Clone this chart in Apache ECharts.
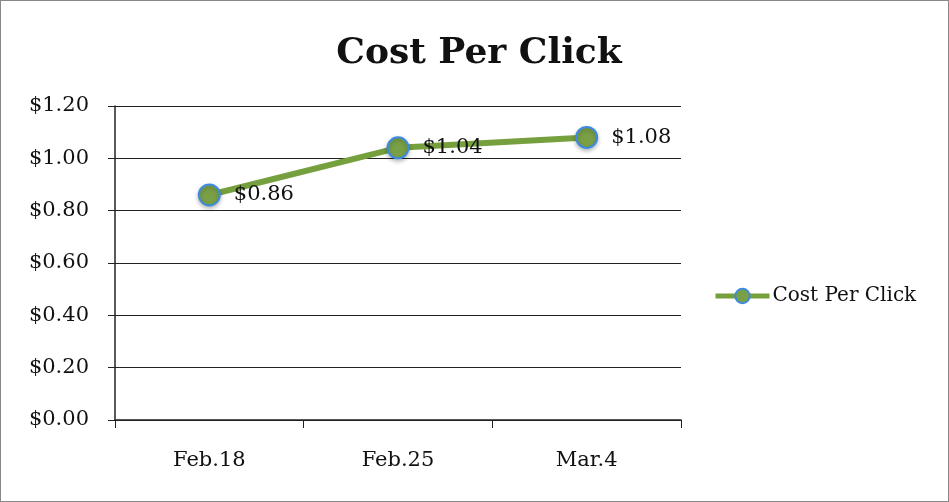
<!DOCTYPE html>
<html>
<head>
<meta charset="utf-8">
<script src="https://cdn.jsdelivr.net/npm/echarts@6/dist/echarts.min.js"></script>
<style>
  html, body { margin: 0; padding: 0; background: #fff; }
  #chart { width: 947px; height: 500px; border: 1px solid #888; }
</style>
</head>
<body>
<div id="chart"></div>
<script>
// weekly cost per click
const categories = ['Feb.18', 'Feb.25', 'Mar.4'];
const costPerClick = [0.86, 1.04, 1.08];
const seriesName = 'Cost Per Click';

const serif = '"DejaVu Serif", "Liberation Serif", serif';
const money = v => '$' + v.toFixed(2);

const chart = echarts.init(document.getElementById('chart'));

chart.setOption({
  backgroundColor: '#fff',
  animation: false,
  title: {
    text: 'Cost Per Click',
    left: 473,
    textAlign: 'center',
    top: 30,
    textStyle: { fontFamily: serif, fontSize: 36, fontWeight: 'bold', color: '#111' }
  },
  legend: {
    left: 707,
    top: 280,
    itemWidth: 54,
    itemHeight: 18,
    itemGap: 3,
    lineStyle: { width: 5 },
    textStyle: { fontFamily: serif, fontSize: 20, color: '#111', padding: [0, 0, 0, -2] },
    data: [seriesName]
  },
  grid: { left: 114, right: 267, top: 105, bottom: 81 },
  xAxis: {
    type: 'category',
    data: categories,
    boundaryGap: true,
    axisLine: { lineStyle: { color: '#222', width: 1.5 } },
    axisTick: { show: true, length: 8, lineStyle: { color: '#222' } },
    axisLabel: { fontFamily: serif, fontSize: 21, color: '#111', margin: 30 }
  },
  yAxis: {
    type: 'value',
    min: 0,
    max: 1.2,
    interval: 0.2,
    axisLine: { show: true, lineStyle: { color: '#222', width: 1.5 } },
    axisTick: { show: true, length: 7, lineStyle: { color: '#222' } },
    axisLabel: { fontFamily: serif, fontSize: 21, color: '#111', margin: 26, formatter: money },
    splitLine: { lineStyle: { color: '#222', width: 1.2 } }
  },
  series: [{
    name: seriesName,
    type: 'line',
    data: costPerClick,
    symbol: 'circle',
    symbolSize: 21,
    lineStyle: { color: '#76a03e', width: 6 },
    itemStyle: {
      color: '#7aa046',
      borderColor: '#3d8be0',
      borderWidth: 2,
      shadowColor: 'rgba(0,0,0,0.25)',
      shadowBlur: 4,
      shadowOffsetY: 2
    },
    label: {
      show: true,
      position: 'right',
      distance: 13,
      fontFamily: serif,
      fontSize: 21,
      color: '#111',
      formatter: p => money(p.value)
    }
  }]
});
</script>
</body>
</html>
